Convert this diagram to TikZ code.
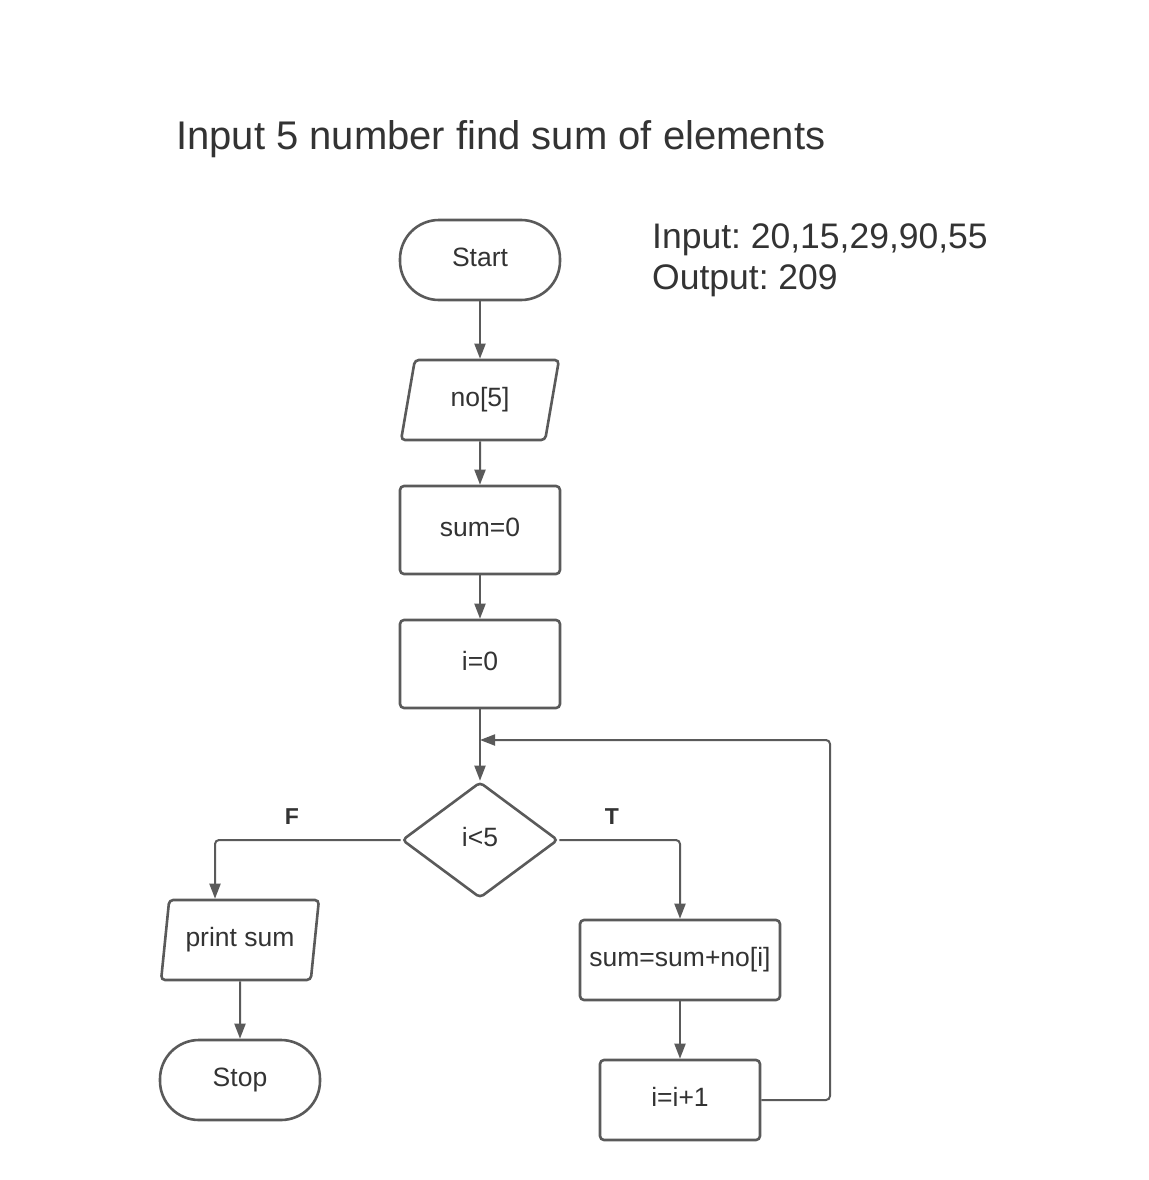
\documentclass[tikz,border=0pt]{standalone}
\usepackage{fontspec}
\setmainfont{Liberation Sans}
\usetikzlibrary{shapes.geometric,arrows.meta}
\definecolor{ln}{HTML}{5A5A5A}
\definecolor{tx}{HTML}{333333}
\frenchspacing
\begin{document}
\begin{tikzpicture}[x=1pt,y=-1pt,
  base/.style={draw=ln,line width=2.6pt,text=tx,font=\fontsize{26.5}{30}\selectfont,inner sep=0pt,fill=white,text height=19pt,text depth=6pt},
  term/.style={base,rectangle,rounded corners=39pt,minimum width=160pt,minimum height=80pt},
  proc/.style={base,rectangle,rounded corners=4pt,minimum height=88pt,minimum width=160pt},
  io/.style={base,trapezium,trapezium left angle=76,trapezium right angle=104,trapezium stretches=true,rounded corners=4pt,minimum width=158pt,minimum height=80pt},
  dec/.style={base,diamond,rounded corners=4pt,minimum width=156pt,minimum height=116pt},
  conn/.style={draw=ln,line width=2pt,-{Triangle[length=15pt,width=11pt]},rounded corners=4pt},
  lab/.style={text=tx,font=\bfseries\fontsize{23}{26}\selectfont}]
\useasboundingbox (0,0) rectangle (1148,1180);
\node[text=tx,anchor=west,font=\fontsize{40}{48}\selectfont,inner sep=0pt] (title) at (176,139) {Input 5 number find sum of elements};
\node[text=tx,anchor=north west,align=left,font=\fontsize{35.5}{41}\selectfont,inner sep=0pt] (io) at (652,224) {Input: 20,15,29,90,55\\Output: 209};
\node[term] (start) at (480,260) {Start};
\node[io] (arr) at (480,400) {no[5]};
\node[proc] (sum0) at (480,530) {sum=0};
\node[proc] (i0) at (480,664) {i=0};
\node[dec] (cond) at (480,840) {i<5};
\node[io] (print) at (240,940) {print sum};
\node[term] (stop) at (240,1080) {Stop};
\node[proc,minimum width=200pt,minimum height=80pt] (add) at (680,960) {sum=sum+no[i]};
\node[proc,minimum height=80pt] (inc) at (680,1100) {i=i+1};
\coordinate (loop) at (480,740);
\coordinate (corner) at (830,1100);
\draw[conn] (start) -- (arr);
\draw[conn] (arr) -- (sum0);
\draw[conn] (sum0) -- (i0);
\draw[conn] (i0) -- (cond);
\draw[conn] (cond.west) -| ([xshift=-25pt]print.north);
\draw[conn] (print) -- (stop);
\draw[conn] (cond.east) -| (add.north);
\draw[conn] (add) -- (inc);
\draw[conn] (inc.east) -- (corner) |- (loop);
\node[lab] (F) at (292,817) {F};
\node[lab] (T) at (612,817) {T};
\end{tikzpicture}
\end{document}
